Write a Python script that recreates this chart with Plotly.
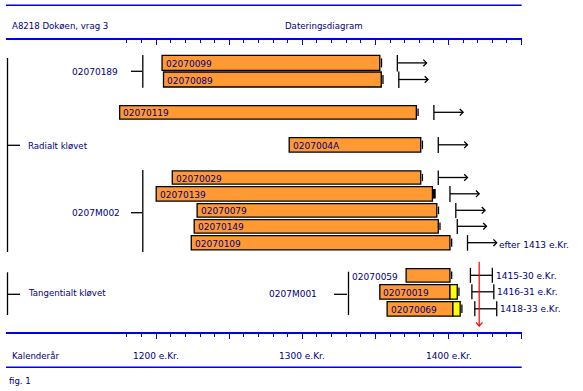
import plotly.graph_objects as go

# ---------------- data ----------------
sample_ids = ["02070099", "02070089", "02070119", "0207004A", "02070029", "02070139",
              "02070079", "02070149", "02070109", "02070059", "02070019", "02070069"]
start_year = [1204, 1205, 1175, 1291, 1211, 1200, 1228, 1226, 1224, 1371, 1353, 1358]
heartwood_end = [1353, 1354, 1378, 1381, 1381, 1389, 1392, 1393, 1401, 1401, 1401, 1403]
sapwood_end = [None, None, None, None, None, None, None, None, None, None, 1406, 1408]
edge_style = ["thin", "thin", "thin", "thin", "thin", "thick",
              "thin", "thin", "thin", "thin", "thin", "thin"]
earliest_felling = [1365, 1366, 1390, 1393, 1393, 1401, 1405, 1406, 1413, None, None, None]
felling_lo = [None] * 9 + [1415, 1416, 1418]
felling_hi = [None] * 9 + [1430, 1431, 1433]
felling_text = [None] * 8 + ["efter 1413 e.Kr.", "1415-30 e.Kr.", "1416-31 e.Kr.", "1418-33 e.Kr."]
label_outside = ["02070059"]
dating_year = 1421

ruler_major = [1200, 1250, 1300, 1350, 1400, 1450]
ruler_minor = list(range(1180, 1450, 10))
ruler_labels = {1200: "1200 e.Kr.", 1300: "1300 e.Kr.", 1400: "1400 e.Kr."}

title_left = "A8218 Dokøen, vrag 3"
title_mid = "Dateringsdiagram"
axis_title = "Kalenderår"
fig_caption = "fig. 1"

# ---------------- layout constants (pixels) ----------------
W, H = 583, 391
SCALE = 1.4615          # px per year
X1200 = 156.2           # pixel x of year 1200
ROW_Y = [62.9, 79.5, 112.3, 144.8, 177.5, 193.8, 210.3, 226.3, 242.7, 275.3, 291.8, 308.8]
ROW_H = [15.0, 15.0, 13.5, 14.5, 13.2, 14.5, 13.5, 13.5, 14.2, 13.5, 14.5, 14.5]
ARROW_YRS = 20


def yr(px):
    return 1200 + (px - X1200) / SCALE


def dyr(px):
    return px / SCALE


def pxx(px):
    return px / W


NAVY = "#000080"
BLUE = "#0000F0"
ORANGE = "#FF9933"
YELLOW = "#FFFF00"
RED = "#FF0000"
FONT = "DejaVu Sans"
FS = 9

fig = go.Figure()

# heartwood bars
fig.add_trace(go.Bar(
    orientation="h", y=ROW_Y, base=start_year,
    x=[e - s for s, e in zip(start_year, heartwood_end)],
    width=ROW_H,
    marker=dict(color=ORANGE, line=dict(color="black", width=1.3)),
    hoverinfo="skip", showlegend=False))

# sapwood bars
idx = [i for i, v in enumerate(sapwood_end) if v is not None]
fig.add_trace(go.Bar(
    orientation="h", y=[ROW_Y[i] for i in idx],
    base=[heartwood_end[i] for i in idx],
    x=[sapwood_end[i] - heartwood_end[i] for i in idx],
    width=[ROW_H[i] for i in idx],
    marker=dict(color=YELLOW, line=dict(color="black", width=1.3)),
    hoverinfo="skip", showlegend=False))

# black line work
lx, ly = [], []
tx, ty = [], []


def seg(xs, ys, X=lx, Y=ly):
    X.extend(xs + [None])
    Y.extend(ys + [None])


for i in range(len(sample_ids)):
    yc, h = ROW_Y[i], ROW_H[i]
    last = sapwood_end[i] if sapwood_end[i] is not None else heartwood_end[i]
    if edge_style[i] == "thick":
        mx = last + dyr(1.8)
        seg([mx, mx], [yc - h / 2 + 2.5, yc + h / 2 - 2.5], tx, ty)
    else:
        mx = last + dyr(1.7)
        seg([mx, mx], [yc - h / 2 + 3, yc + h / 2 - 3])
    ef = earliest_felling[i]
    if ef is not None:
        seg([ef, ef], [yc - h / 2 - 0.5, yc + h / 2 + 1])
        end = ef + ARROW_YRS
        seg([ef, end], [yc, yc])
        seg([end - dyr(3.3), end, end - dyr(3.3)], [yc - 3.3, yc, yc + 3.3])
    if felling_lo[i] is not None:
        lo, hi = felling_lo[i], felling_hi[i]
        seg([lo, lo], [yc - 7.5, yc + 7.5])
        seg([hi, hi], [yc - 7.5, yc + 7.5])
        seg([lo, hi], [yc, yc])

fig.add_trace(go.Scatter(x=lx, y=ly, mode="lines", line=dict(color="black", width=1.3),
                         hoverinfo="skip", showlegend=False))
fig.add_trace(go.Scatter(x=tx, y=ty, mode="lines", line=dict(color="black", width=3),
                         hoverinfo="skip", showlegend=False))

# red dating arrow
fig.add_trace(go.Scatter(
    x=[dating_year, dating_year, None,
       dating_year - dyr(3.3), dating_year, dating_year + dyr(3.3)],
    y=[261.7, 326, None, 322.3, 326, 322.3],
    mode="lines", line=dict(color=RED, width=1.2),
    hoverinfo="skip", showlegend=False))

# dummy trace for the top ruler
fig.add_trace(go.Scatter(x=[1300], y=[-100], xaxis="x2", mode="markers",
                         marker=dict(opacity=0), hoverinfo="skip", showlegend=False))

ann = []


def text(x, y, s, xref="paper", xanchor="left", xshift=0, size=FS):
    ann.append(dict(x=x, y=y, xref=xref, yref="y", text=s, showarrow=False,
                    xanchor=xanchor, yanchor="middle", xshift=xshift,
                    font=dict(family=FONT, size=size, color=NAVY)))


# bar labels
for i, name in enumerate(sample_ids):
    if name in label_outside:
        text(start_year[i], ROW_Y[i] + 1.5, name, xref="x", xanchor="right", xshift=-6)
    else:
        text(start_year[i], ROW_Y[i] + 1, name, xref="x", xanchor="left", xshift=1.5)

# felling texts
for i, s in enumerate(felling_text):
    if s is None:
        continue
    if felling_hi[i] is not None:
        text(felling_hi[i], ROW_Y[i] + 0.5, s, xref="x", xanchor="left", xshift=1.5)
    else:
        text(earliest_felling[i] + ARROW_YRS, ROW_Y[i] + 2, s, xref="x", xanchor="left", xshift=0.5)

# ruler labels
for yv, s in ruler_labels.items():
    text(yv, 355.5, s, xref="x", xanchor="center")

# headings and group labels
text(pxx(9.5), 25.5, title_left, size=8.6)
text(pxx(282.5), 25.5, title_mid, size=8.6)
text(pxx(9.5), 355.5, axis_title, size=8.6)
text(pxx(6.5), 380.5, fig_caption, size=8.6)
text(pxx(70), 71.5, "02070189")
text(pxx(25.5), 145.5, "Radialt kløvet", size=8.6)
text(pxx(70), 213, "0207M002")
text(pxx(25.5), 293, "Tangentialt kløvet", size=8.6)
text(pxx(266.5), 293.5, "0207M001")

# tree lines and frame lines
shapes = []


def line(x0, y0, x1, y1, color="black", width=1.3):
    shapes.append(dict(type="line", xref="paper", yref="y", x0=pxx(x0), x1=pxx(x1),
                       y0=y0, y1=y1, line=dict(color=color, width=width)))


line(7.5, 58, 7.5, 252)
line(7.5, 145.3, 20, 145.3)
line(131, 71.3, 142, 71.3)
line(142.8, 55, 142.8, 87.7)
line(131, 212.7, 142, 212.7)
line(142.8, 170, 142.8, 252)
line(7.5, 272.3, 7.5, 315)
line(7.5, 294.3, 20, 294.3)
line(334, 294.3, 347, 294.3)
line(348.5, 271.7, 348.5, 315)
line(6, 5.3, 521.7, 5.3, BLUE, 1.5)
line(6, 367.3, 521.7, 367.3, BLUE, 1.5)

ruler = dict(
    range=[yr(6), yr(521.7)], anchor="free",
    showline=True, linecolor=BLUE, linewidth=1.5,
    ticks="outside", tickvals=ruler_major, ticklen=4.5, tickwidth=1.3, tickcolor=BLUE,
    showticklabels=False, showgrid=False, zeroline=False, fixedrange=True,
    minor=dict(tickvals=ruler_minor, ticks="outside", ticklen=3, tickwidth=1.3,
               tickcolor=BLUE, showgrid=False),
)

fig.update_layout(
    width=W, height=H, autosize=False,
    margin=dict(l=0, r=0, t=0, b=0, pad=0),
    paper_bgcolor="white", plot_bgcolor="white",
    barmode="overlay", showlegend=False,
    xaxis=dict(ruler, domain=[pxx(6), pxx(521.7)], position=(H - 333.3) / H),
    xaxis2=dict(ruler, overlaying="x", matches="x", position=(H - 39.3) / H),
    yaxis=dict(domain=[0, 1], range=[H, 0], visible=False, fixedrange=True),
    annotations=ann, shapes=shapes,
)

fig.write_html("out.html", config={"displayModeBar": False},
               post_script="document.body.style.margin='0';")
